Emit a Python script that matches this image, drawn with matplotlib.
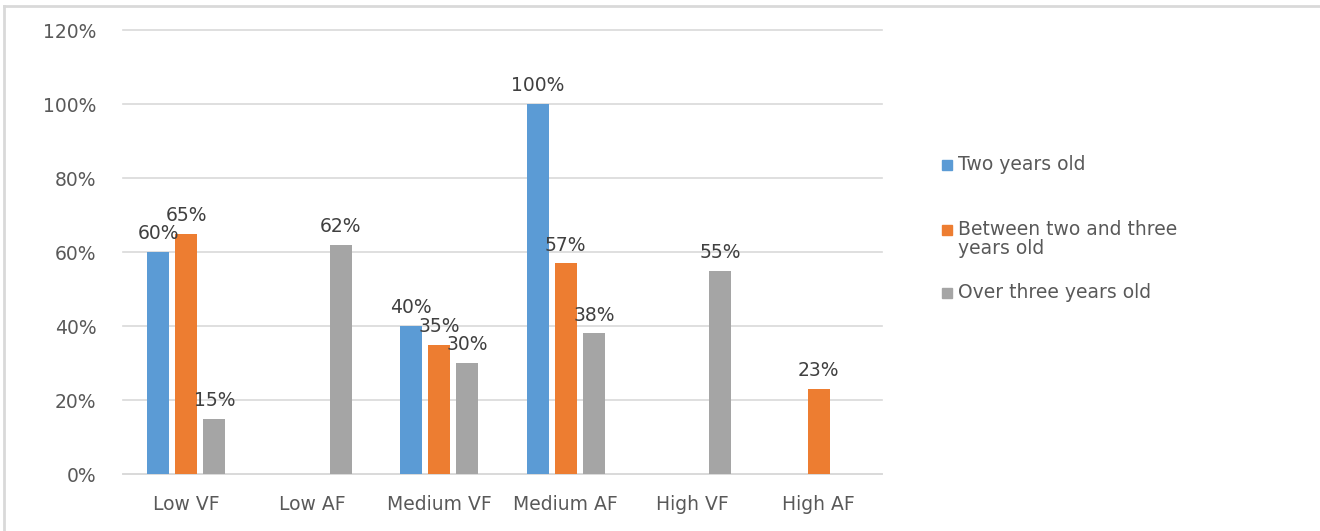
import numpy as np
import matplotlib.pyplot as plt
from matplotlib.patches import Rectangle
from matplotlib.lines import Line2D

categories = ['Low VF', 'Low AF', 'Medium VF', 'Medium AF', 'High VF', 'High AF']
series_names = ['Two years old', 'Between two and three\nyears old', 'Over three years old']
two_years = [60, None, 40, 100, None, None]
two_to_three = [65, None, 35, 57, None, 23]
over_three = [15, 62, 30, 38, 55, None]
colors = ['#5B9BD5', '#ED7D31', '#A5A5A5']
yticks = [0, 20, 40, 60, 80, 100, 120]

plt.rcParams['font.family'] = ['DejaVu Sans']
txt = '#595959'
fs = 13.5

fig = plt.figure(figsize=(13.2, 5.31), dpi=100)
ax = fig.add_axes([123 / 1320, 1 - 474 / 531, (882 - 123) / 1320, (474 - 30) / 531])

x = np.arange(len(categories))
width = 0.175
step = 0.222
for k, vals in enumerate([two_years, two_to_three, over_three]):
    xs = [x[i] + (k - 1) * step for i, v in enumerate(vals) if v is not None]
    hs = [v for v in vals if v is not None]
    ax.bar(xs, hs, width, color=colors[k], zorder=3)
    for xi, h in zip(xs, hs):
        ax.annotate(f'{h}%', (xi, h), xytext=(0, 13), textcoords='offset points',
                    ha='center', va='center', fontsize=fs, color='#404040', zorder=4)

ax.set_xlim(-0.5, len(categories) - 0.5)
ax.set_ylim(0, 120)
ax.set_yticks(yticks)
ax.set_yticklabels([f'{t}%' for t in yticks])
ax.set_xticks(x)
ax.set_xticklabels(categories)
ax.grid(axis='y', color='#D9D9D9', linewidth=1.2, zorder=0)
for gl in ax.get_ygridlines():
    gl.set_clip_on(False)
for s in ['top', 'right', 'left']:
    ax.spines[s].set_visible(False)
ax.spines['bottom'].set_color('#D9D9D9')
ax.spines['bottom'].set_linewidth(1.2)
ax.tick_params(axis='y', length=0, pad=19, labelsize=fs, labelcolor=txt)
ax.tick_params(axis='x', length=0, pad=15, labelsize=fs, labelcolor=txt)

# legend drawn by hand to match the Excel spacing
leg_y = [165, 230, 293]
for k, name in enumerate(series_names):
    yf = 1 - leg_y[k] / 531
    fig.patches.append(Rectangle((942 / 1320, yf - 5 / 531), 10 / 1320, 10 / 531,
                                 transform=fig.transFigure, color=colors[k]))
    if '\n' in name:
        fig.text(958 / 1320, yf + 10 / 531, name, ha='left', va='top',
                 fontsize=fs, color=txt, linespacing=1.0)
    else:
        fig.text(958 / 1320, yf, name, ha='left', va='center', fontsize=fs, color=txt)

# outer frame (top and left edges)
fig.add_artist(Line2D([4 / 1320, 4 / 1320], [0, 1 - 6 / 531], color='#D9D9D9', linewidth=2))
fig.add_artist(Line2D([4 / 1320, 1], [1 - 6 / 531, 1 - 6 / 531], color='#D9D9D9', linewidth=2))

fig.savefig('out.png', dpi=100, facecolor='white')
